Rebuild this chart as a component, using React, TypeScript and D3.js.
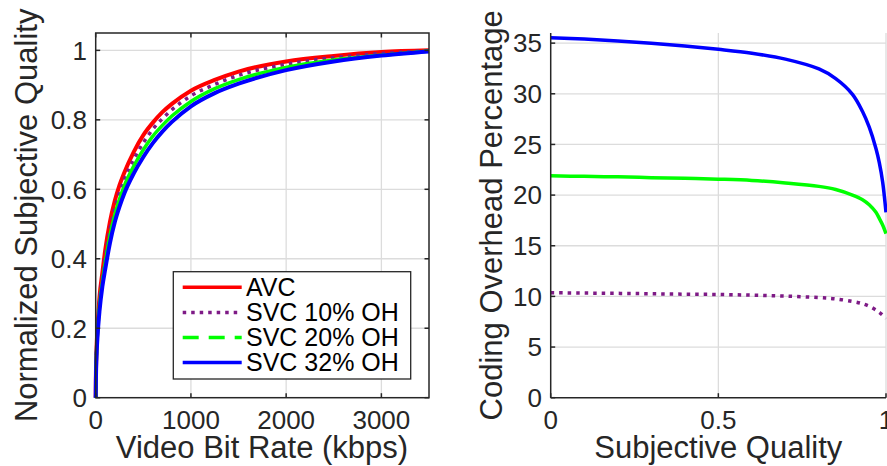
import React from 'react';
import * as d3 from 'd3';

// Left panel: normalized subjective quality vs. video bit rate (kbps)
const rates = [0, 2, 5, 10, 20, 40, 70, 100, 150, 200, 250, 300, 400, 500, 600, 700, 800, 1000, 1250, 1500, 2000, 2500, 3000, 3500];
const qualityAVC = [0, 0.06, 0.105, 0.15, 0.205, 0.29, 0.36, 0.425, 0.507, 0.566, 0.612, 0.648, 0.708, 0.756, 0.792, 0.822, 0.846, 0.884, 0.915, 0.939, 0.968, 0.984, 0.995, 1.0];
const qualitySVC10 = [0, 0.056, 0.1, 0.145, 0.197, 0.277, 0.345, 0.405, 0.485, 0.545, 0.59, 0.628, 0.686, 0.734, 0.773, 0.803, 0.829, 0.869, 0.902, 0.928, 0.96, 0.979, 0.991, 0.999];
const qualitySVC20 = [0, 0.052, 0.095, 0.14, 0.19, 0.265, 0.333, 0.388, 0.467, 0.526, 0.572, 0.61, 0.667, 0.714, 0.753, 0.784, 0.811, 0.853, 0.89, 0.916, 0.951, 0.972, 0.986, 0.998];
const qualitySVC32 = [0, 0.048, 0.09, 0.13, 0.18, 0.25, 0.32, 0.37, 0.446, 0.505, 0.55, 0.588, 0.646, 0.693, 0.733, 0.766, 0.794, 0.839, 0.877, 0.904, 0.943, 0.968, 0.985, 0.997];
const rateTicks = [0, 1000, 2000, 3000];
const qualityTicks = [0, 0.2, 0.4, 0.6, 0.8, 1];

// Right panel: coding overhead percentage vs. subjective quality
const subjQuality = [0, 0.1, 0.2, 0.3, 0.4, 0.5, 0.6, 0.7, 0.8, 0.85, 0.9, 0.93, 0.95, 0.97, 0.98, 0.99, 1.0];
const overheadSVC10 = [10.36, 10.33, 10.3, 10.26, 10.22, 10.19, 10.12, 10.03, 9.88, 9.75, 9.5, 9.27, 9.02, 8.66, 8.42, 8.15, 7.8];
const overheadSVC20 = [21.9, 21.85, 21.8, 21.72, 21.65, 21.57, 21.45, 21.2, 20.86, 20.55, 20.0, 19.55, 19.05, 18.3, 17.7, 17.05, 16.2];
const overheadSVC32 = [35.54, 35.4, 35.22, 35.0, 34.72, 34.39, 34.0, 33.42, 32.45, 31.5, 29.95, 28.25, 26.7, 24.6, 23.2, 21.3, 18.3];
const subjTicks = [0, 0.5, 1];
const overheadTicks = [0, 5, 10, 15, 20, 25, 30, 35];

const legendLabels = ['AVC', 'SVC 10% OH', 'SVC 20% OH', 'SVC 32% OH'];

const AXIS = '#262626';
const GRID = '#dcdcdc';
const FONT = '"Liberation Sans", Arial, Helvetica, sans-serif';
const RED = '#ff0000';
const PURPLE = '#7e1a86';
const GREEN = '#00ff00';
const BLUE = '#0000ff';
const DOTS = '3.5 5';

const top = 33;
const bottom = 397.7;
const tickLen = 4.5;

function LeftPanel() {
  const x = d3.scaleLinear().domain([0, 3500]).range([95.7, 429]);
  const y = d3.scaleLinear().domain([0, 1.05]).range([bottom, top]);
  const line = d3
    .line<number>()
    .x((_, i) => x(rates[i]))
    .y((d) => y(d))
    .curve(d3.curveMonotoneX);
  const [x0, x1] = x.range();
  const series = [
    { v: qualityAVC, c: RED, w: 4, dash: undefined },
    { v: qualitySVC10, c: PURPLE, w: 3.5, dash: DOTS },
    { v: qualitySVC20, c: GREEN, w: 3.5, dash: undefined },
    { v: qualitySVC32, c: BLUE, w: 4, dash: undefined },
  ];
  const legendStyles = [
    { c: RED, dash: undefined },
    { c: PURPLE, dash: DOTS },
    { c: GREEN, dash: '16 10' },
    { c: BLUE, dash: undefined },
  ];
  const lg = { x: 173.3, y: 271.7, w: 237.4, h: 107.3 };
  const rowY = (i: number) => 287.3 + i * 25.1;
  return (
    <g>
      {rateTicks.filter((t) => t > 0).map((t) => (
        <line key={'gx' + t} x1={x(t)} x2={x(t)} y1={top} y2={bottom} stroke={GRID} strokeWidth={1.3} />
      ))}
      {qualityTicks.filter((t) => t > 0).map((t) => (
        <line key={'gy' + t} x1={x0} x2={x1} y1={y(t)} y2={y(t)} stroke={GRID} strokeWidth={1.3} />
      ))}
      {series.map((s, i) => (
        <path key={i} d={line(s.v) || ''} fill="none" stroke={s.c} strokeWidth={s.w} strokeDasharray={s.dash} strokeLinejoin="round" />
      ))}
      <rect x={x0} y={top} width={x1 - x0} height={bottom - top} fill="none" stroke={AXIS} strokeWidth={1.5} />
      {rateTicks.map((t) => (
        <g key={'tx' + t}>
          <line x1={x(t)} x2={x(t)} y1={bottom} y2={bottom - tickLen} stroke={AXIS} strokeWidth={1.5} />
          <line x1={x(t)} x2={x(t)} y1={top} y2={top + tickLen} stroke={AXIS} strokeWidth={1.5} />
          <text x={x(t)} y={429} textAnchor="middle" fontSize={26} fill={AXIS} fontFamily={FONT}>{String(t)}</text>
        </g>
      ))}
      {qualityTicks.map((t) => (
        <g key={'ty' + t}>
          <line x1={x0} x2={x0 + tickLen} y1={y(t)} y2={y(t)} stroke={AXIS} strokeWidth={1.5} />
          <line x1={x1} x2={x1 - tickLen} y1={y(t)} y2={y(t)} stroke={AXIS} strokeWidth={1.5} />
          <text x={87} y={y(t)} dy="0.36em" textAnchor="end" fontSize={26} fill={AXIS} fontFamily={FONT}>{String(t)}</text>
        </g>
      ))}
      <text x={262} y={458} textAnchor="middle" fontSize={31} fill={AXIS} fontFamily={FONT}>Video Bit Rate (kbps)</text>
      <text transform={`translate(36.5,${(top + bottom) / 2}) rotate(-90)`} textAnchor="middle" fontSize={31} fill={AXIS} fontFamily={FONT}>
        Normalized Subjective Quality
      </text>
      <rect x={lg.x} y={lg.y} width={lg.w} height={lg.h} fill="#ffffff" stroke={AXIS} strokeWidth={1.3} />
      {legendLabels.map((label, i) => (
        <g key={label}>
          <line x1={182.7} x2={241.7} y1={rowY(i)} y2={rowY(i)} stroke={legendStyles[i].c} strokeWidth={3.5} strokeDasharray={legendStyles[i].dash} />
          <text x={246} y={rowY(i) + 8.5} fontSize={25} fill="#000000" fontFamily={FONT}>{label}</text>
        </g>
      ))}
    </g>
  );
}

function RightPanel() {
  const x = d3.scaleLinear().domain([0, 1]).range([550.7, 886]);
  const y = d3.scaleLinear().domain([0, 36]).range([bottom, top]);
  const line = d3
    .line<number>()
    .x((_, i) => x(subjQuality[i]))
    .y((d) => y(d))
    .curve(d3.curveCatmullRom.alpha(0.5));
  const [x0, x1] = x.range();
  const series = [
    { v: overheadSVC10, c: PURPLE, dash: DOTS },
    { v: overheadSVC20, c: GREEN, dash: undefined },
    { v: overheadSVC32, c: BLUE, dash: undefined },
  ];
  return (
    <g>
      {subjTicks.filter((t) => t > 0).map((t) => (
        <line key={'gx' + t} x1={x(t)} x2={x(t)} y1={top} y2={bottom} stroke={GRID} strokeWidth={1.3} />
      ))}
      {overheadTicks.filter((t) => t > 0).map((t) => (
        <line key={'gy' + t} x1={x0} x2={x1} y1={y(t)} y2={y(t)} stroke={GRID} strokeWidth={1.3} />
      ))}
      {series.map((s, i) => (
        <path key={i} d={line(s.v) || ''} fill="none" stroke={s.c} strokeWidth={3.5} strokeDasharray={s.dash} strokeLinejoin="round" />
      ))}
      <line x1={x0} x2={x0} y1={top} y2={bottom} stroke={AXIS} strokeWidth={1.5} />
      <line x1={x0} x2={x1} y1={bottom} y2={bottom} stroke={AXIS} strokeWidth={1.5} />
      {subjTicks.map((t) => (
        <g key={'tx' + t}>
          <line x1={x(t)} x2={x(t)} y1={bottom} y2={bottom - tickLen} stroke={AXIS} strokeWidth={1.5} />
          <text x={x(t)} y={429} textAnchor="middle" fontSize={26} fill={AXIS} fontFamily={FONT}>{String(t)}</text>
        </g>
      ))}
      {overheadTicks.map((t) => (
        <g key={'ty' + t}>
          <line x1={x0} x2={x0 + tickLen} y1={y(t)} y2={y(t)} stroke={AXIS} strokeWidth={1.5} />
          <text x={542} y={y(t)} dy="0.36em" textAnchor="end" fontSize={26} fill={AXIS} fontFamily={FONT}>{String(t)}</text>
        </g>
      ))}
      <text x={718.3} y={458} textAnchor="middle" fontSize={31} fill={AXIS} fontFamily={FONT}>Subjective Quality</text>
      <text transform={`translate(501.5,${(top + bottom) / 2}) rotate(-90)`} textAnchor="middle" fontSize={31} fill={AXIS} fontFamily={FONT}>
        Coding Overhead Percentage
      </text>
    </g>
  );
}

export default function App() {
  return (
    <svg
      width={887}
      height={466}
      viewBox="0 0 887 466"
      style={{ position: 'absolute', left: 0, top: 0, background: '#ffffff' }}
    >
      <rect x={0} y={0} width={887} height={466} fill="#ffffff" />
      <LeftPanel />
      <RightPanel />
    </svg>
  );
}
